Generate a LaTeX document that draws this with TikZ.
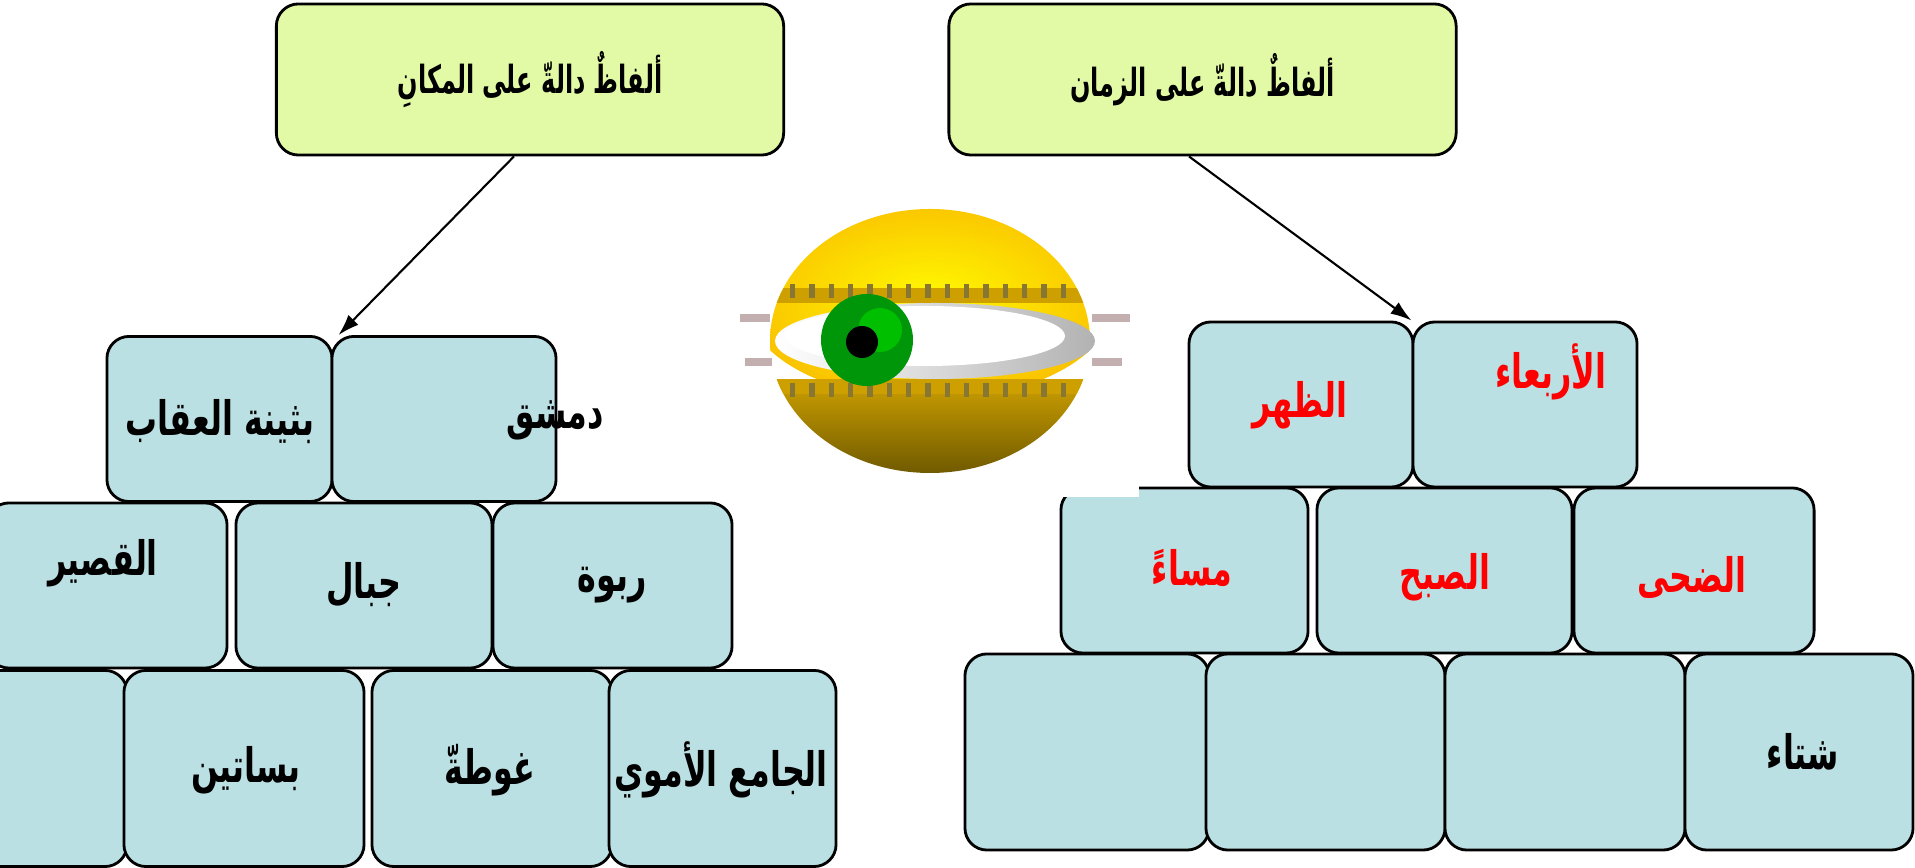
\documentclass[tikz,border=0pt]{standalone}
\usepackage{fontspec}
\usepackage{tikz}
\usetikzlibrary{arrows.meta}
\newfontfamily\arabicfont[Script=Arabic, FakeStretch=0.67]{DejaVu Sans}
\newfontfamily\titlefont[Script=Arabic, FakeStretch=0.62]{DejaVu Sans}
\TeXXeTstate=1
\definecolor{boxblue}{RGB}{187,224,227}
\definecolor{boxgreen}{RGB}{226,249,166}
\definecolor{eyeyellow}{RGB}{255,250,0}
\definecolor{eyeorange}{RGB}{250,195,0}
\definecolor{eyegold}{RGB}{205,160,0}
\definecolor{eyebrown}{RGB}{105,85,0}
\definecolor{eyegreen}{RGB}{0,150,10}
\definecolor{lash}{RGB}{195,175,175}

\begin{document}
\begin{tikzpicture}[x=0.01cm, y=-0.01cm, thick,
  title/.style = {draw, fill=boxgreen, rounded corners=0.22cm, inner sep=0pt,
    minimum width=5.07cm, minimum height=1.51cm,
    font=\titlefont\bfseries\fontsize{11}{13}\selectfont},
  brick/.style = {draw, fill=boxblue, rounded corners=0.22cm, inner sep=0pt, minimum height=1.65cm},
  tall/.style = {brick, minimum height=1.96cm},
  word/.style = {inner sep=0pt, font=\arabicfont\bfseries\fontsize{13.5}{15}\selectfont},
  redword/.style = {word, text=red},
  link/.style = {semithick, -{Latex[length=6pt, width=4pt]}}]
\useasboundingbox (0,0) rectangle (1915,868);

% titles
\node[title] (makan) at (530,79.5) {\beginR ألفاظٌ دالةّ على المكانِ\endR};
\node[title] (zaman) at (1202.5,79.5) {\beginR ألفاظٌ دالةّ على الزمان\endR};

% place bricks
\node[brick, minimum width=2.25cm] (b1) at (219.5,419) {};
\node[brick, minimum width=2.24cm] (b2) at (444,419) {};
\node[brick, minimum width=2.40cm] (b3) at (107,585.5) {};
\node[brick, minimum width=2.56cm] (b4) at (364,585.5) {};
\node[brick, minimum width=2.39cm] (b5) at (612.5,585.5) {};
\node[tall, minimum width=2.40cm] (b6) at (7,768.5) {};
\node[tall, minimum width=2.40cm] (b7) at (244,768.5) {};
\node[tall, minimum width=2.40cm] (b8) at (492,768.5) {};
\node[tall, minimum width=2.27cm] (b9) at (722.5,768.5) {};

% time bricks
\node[brick, minimum width=2.24cm] (t1) at (1301,404.5) {};
\node[brick, minimum width=2.24cm] (t2) at (1525,404.5) {};
\node[brick, minimum width=2.47cm] (t3) at (1184.5,570.5) {};
\node[brick, minimum width=2.55cm] (t4) at (1444.5,570.5) {};
\node[brick, minimum width=2.40cm] (t5) at (1694,570.5) {};
\node[tall, minimum width=2.44cm] (t6) at (1087,752) {};
\node[tall, minimum width=2.39cm] (t7) at (1325.5,752) {};
\node[tall, minimum width=2.40cm] (t8) at (1565,752) {};
\node[tall, minimum width=2.28cm] (t9) at (1799,752) {};
\fill[white] (1040,470) rectangle (1139,497);

% words
\node[word] (w1) at (220,422) {\beginR بثينة العقاب\endR};
\node[word] (w2) at (555,420) {\beginR دمشق\endR};
\node[word] (w3) at (103,563) {\beginR القصير\endR};
\node[word] (w4) at (364,585) {\beginR جبال\endR};
\node[word] (w5) at (612,585) {\beginR ربوة\endR};
\node[word] (w7) at (246,770) {\beginR بساتين\endR};
\node[word] (w8) at (490,770) {\beginR غوطةّ\endR};
\node[word] (w9) at (721,770) {\beginR الجامع الأموي\endR};
\node[redword] (v1) at (1300,405) {\beginR الظهر\endR};
\node[redword] (v2) at (1551,372) {\beginR الأربعاء\endR};
\node[redword] (v3) at (1192,568) {\beginR مساءً\endR};
\node[redword] (v4) at (1445,577) {\beginR الصبح\endR};
\node[redword] (v5) at (1692,577) {\beginR الضحى\endR};
\node[word] (v9) at (1803,752) {\beginR شتاء\endR};

\draw[link] ([xshift=-0.16cm]makan.south) -- ([xshift=0.08cm]b2.north west);
\draw[link] ([xshift=-0.135cm]zaman.south) -- (t2.north west);

% the eye
\begin{scope}
  \clip (930,341) ellipse [x radius=160, y radius=132];
  \shade[inner color=eyeyellow, outer color=eyeorange] (930,300) ellipse [x radius=185, y radius=100];
  \shade[top color=eyegold, bottom color=eyebrown] (760,380) rectangle (1100,480);
  \fill[eyegold] (760,288) rectangle (1100,303);
  \fill[eyegold] (760,380) rectangle (1100,394);
\end{scope}
\draw[eyebrown!80, line width=4pt, dash pattern=on 1.5pt off 4pt] (790,291) -- (1070,291);
\draw[eyebrown!80, line width=4pt, dash pattern=on 1.5pt off 4pt] (790,390) -- (1070,390);
\shade[left color=white, right color=black!30] (935,341) ellipse [x radius=160, y radius=38];
\fill[white] (925,336) ellipse [x radius=140, y radius=30];
\fill[eyegreen] (867,340) circle [radius=46];
\fill[green!75!black] (880,330) circle [radius=22];
\fill[black] (862,342) circle [radius=16];
\draw[lash, line width=2.5pt] (740,318) -- (770,318);
\draw[lash, line width=2.5pt] (745,362) -- (772,362);
\draw[lash, line width=2.5pt] (1092,318) -- (1130,318);
\draw[lash, line width=2.5pt] (1092,362) -- (1122,362);
\end{tikzpicture}
\end{document}
